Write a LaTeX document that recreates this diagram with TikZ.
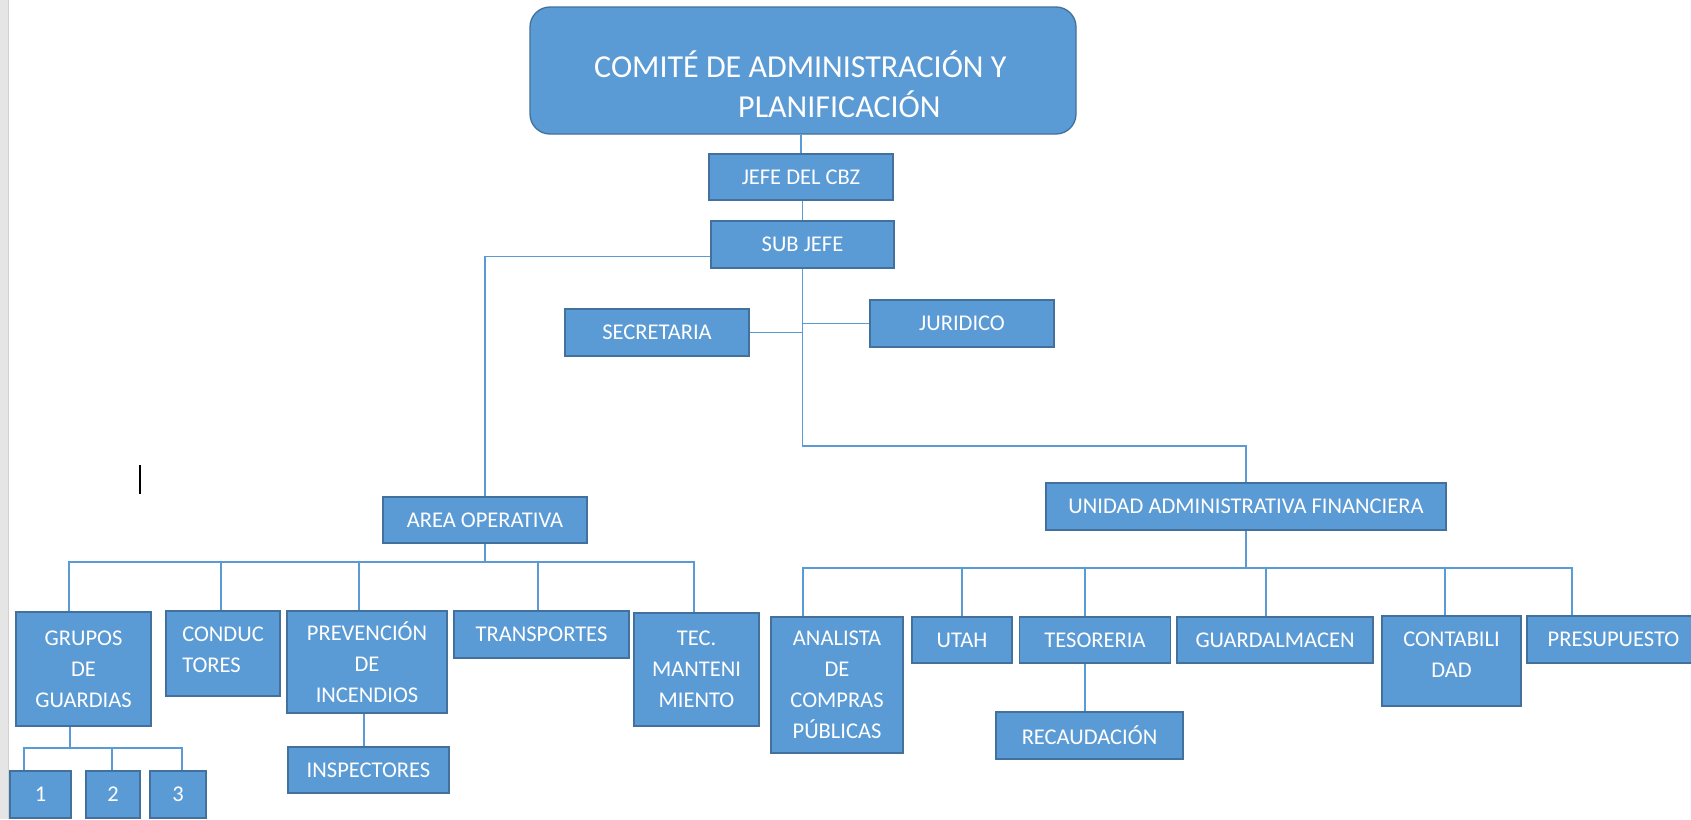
\documentclass[tikz,border=0pt]{standalone}
\usepackage{fontspec}
\setmainfont{Carlito}
\usepackage{tikz}
\definecolor{boxfill}{HTML}{5B9BD5}
\definecolor{boxedge}{HTML}{41719C}
\definecolor{linkblue}{HTML}{5B9BD5}

\begin{document}
\begin{tikzpicture}[x=1pt, y=-1pt,
    box/.style={draw=boxedge, fill=boxfill, line width=1.3pt, text=white, inner sep=0pt, align=center, font=\fontsize{22.5}{31}\selectfont},
    bigtext/.style={text=white, inner sep=0pt, font=\fontsize{32}{40}\selectfont},
    link/.style={draw=linkblue, line width=1.6pt}]
    \useasboundingbox (0,0) rectangle (1691,819);
    \fill [white] (0,0) rectangle (1691,819);
    \fill [black!10] (0,0) rectangle (8,819);
    \draw [black!18, line width=1.5pt] (8.5,0) -- (8.5,819);
    \draw [black, line width=2pt] (139.5,465) -- (139.5,494);
    % top of the chart
    \node [box, rounded corners=20pt, minimum width=546pt, minimum height=127pt] (comite) at (803,70.5) {};
    \node [bigtext, anchor=base west] (comiteuno) at (594,77) {COMITÉ DE ADMINISTRACIÓN Y};
    \node [bigtext, anchor=base west] (comitedos) at (738,117) {PLANIFICACIÓN};
    \node [box, minimum width=184pt, minimum height=46pt] (jefe) at (801,177) {JEFE DEL CBZ};
    \node [box, minimum width=183pt, minimum height=47pt] (subjefe) at (802.5,244.5) {SUB JEFE};
    \node [box, minimum width=184pt, minimum height=47pt] (juridico) at (962,323.5) {JURIDICO};
    \node [box, minimum width=184pt, minimum height=47pt] (secretaria) at (657,332.5) {SECRETARIA};
    \node [box, minimum width=204pt, minimum height=46pt] (areaop) at (485,520) {AREA OPERATIVA};
    \node [box, minimum width=400pt, minimum height=47pt] (unidad) at (1246,506.5) {UNIDAD ADMINISTRATIVA FINANCIERA};
    % operative area
    \node [box, minimum width=135pt, minimum height=114pt] (grupos) at (83.5,669) {GRUPOS\\DE\\GUARDIAS};
    \node [box, align=left, minimum width=114pt, minimum height=85pt] (conductores) at (223,653.5) {CONDUC\\TORES\\[-24pt]\mbox{}};
    \node [box, minimum width=160pt, minimum height=102pt] (prevencion) at (367,662) {PREVENCIÓN\\DE\\INCENDIOS};
    \node [box, minimum width=175pt, minimum height=47pt] (transportes) at (541.5,634.5) {TRANSPORTES};
    \node [box, minimum width=125pt, minimum height=113pt] (tecmant) at (696.5,669.5) {TEC.\\MANTENI\\MIENTO};
    \node [box, minimum width=161pt, minimum height=46pt] (inspectores) at (368.5,770) {INSPECTORES};
    \node [box, minimum width=61pt, minimum height=47pt] (guardia1) at (40.5,794.5) {1};
    \node [box, minimum width=54pt, minimum height=47pt] (guardia2) at (113,794.5) {2};
    \node [box, minimum width=56pt, minimum height=47pt] (guardia3) at (178,794.5) {3};
    % administrative unit
    \node [box, minimum width=132pt, minimum height=136pt] (analista) at (837,685) {ANALISTA\\DE\\COMPRAS\\PÚBLICAS};
    \node [box, minimum width=100pt, minimum height=46pt] (utah) at (962,640) {UTAH};
    \node [box, minimum width=151pt, minimum height=46pt] (tesoreria) at (1095,640) {TESORERIA};
    \node [box, minimum width=187pt, minimum height=47pt] (recaudacion) at (1089.5,735.5) {RECAUDACIÓN};
    \node [box, minimum width=196pt, minimum height=46pt] (guardalmacen) at (1275,640) {GUARDALMACEN};
    \node [box, minimum width=139pt, minimum height=90pt] (contabilidad) at (1451.5,661) {CONTABILI\\DAD\\[-18pt]\mbox{}};
    \node [box, minimum width=173pt, minimum height=47pt] (presupuesto) at (1613.5,639.5) {PRESUPUESTO};
    % bus points
    \coordinate (trunk) at (802.5,446);
    \coordinate (opbus) at (485,562);
    \coordinate (uabus) at (1246,568);
    \coordinate (gbus) at (70,748);
    % connectors
    \draw [link] (jefe.north) -- (jefe.north |- comite.south);
    \draw [link] (subjefe.north) -- (subjefe.north |- jefe.south);
    \draw [link] (subjefe.south) -- (trunk) -| (unidad.north);
    \draw [link] (juridico.west) -- (juridico.west -| trunk);
    \draw [link] (secretaria.east) -- (secretaria.east -| trunk);
    \draw [link] ([yshift=-12pt]subjefe.west) -| (areaop.north);
    \draw [link] (areaop.south) -- (opbus);
    \draw [link] (opbus) -| ([xshift=-14.5pt]grupos.north);
    \draw [link] (opbus) -| ([xshift=-2pt]conductores.north);
    \draw [link] (opbus) -| ([xshift=-8pt]prevencion.north);
    \draw [link] (opbus) -| ([xshift=-3.5pt]transportes.north);
    \draw [link] (opbus) -| ([xshift=-2.5pt]tecmant.north);
    \draw [link] ([xshift=-3pt]prevencion.south) -- ([xshift=-3pt]prevencion.south |- inspectores.north);
    \draw [link] ([xshift=-13.5pt]grupos.south) -- (gbus);
    \draw [link] (gbus) -| ([xshift=-16.5pt]guardia1.north);
    \draw [link] (gbus) -| ([xshift=-1pt]guardia2.north);
    \draw [link] (gbus) -| ([xshift=4pt]guardia3.north);
    \draw [link] (unidad.south) -- (uabus);
    \draw [link] (uabus) -| ([xshift=-34pt]analista.north);
    \draw [link] (uabus) -| (utah.north);
    \draw [link] (uabus) -| ([xshift=-10pt]tesoreria.north);
    \draw [link] (uabus) -| ([xshift=-9pt]guardalmacen.north);
    \draw [link] (uabus) -| ([xshift=-6.5pt]contabilidad.north);
    \draw [link] (uabus) -| ([xshift=-41.5pt]presupuesto.north);
    \draw [link] ([xshift=-10pt]tesoreria.south) -- ([xshift=-10pt]tesoreria.south |- recaudacion.north);
\end{tikzpicture}
\end{document}
